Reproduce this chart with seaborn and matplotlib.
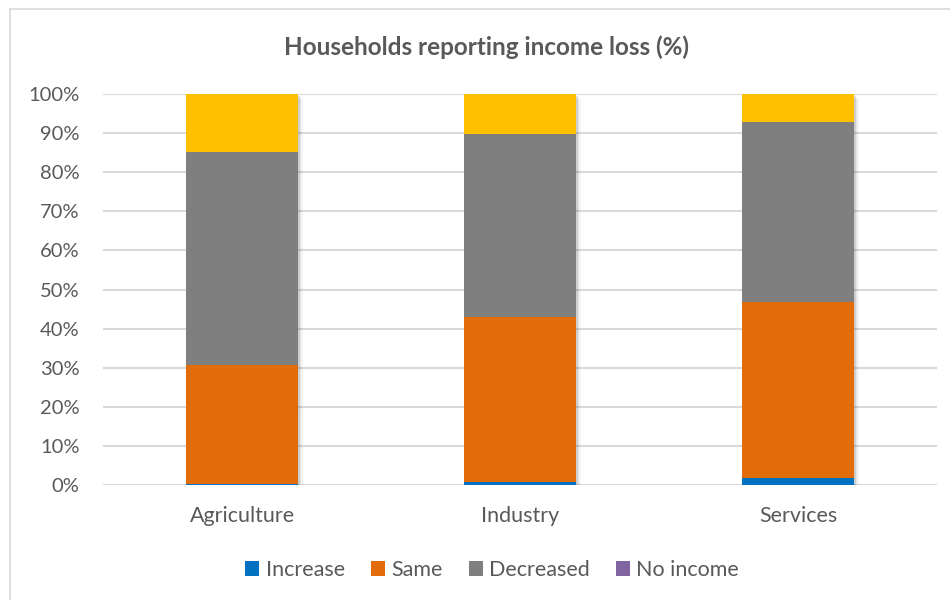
import pandas as pd
import matplotlib
matplotlib.use('Agg')
import matplotlib.pyplot as plt
import matplotlib.patheffects as pe
from matplotlib.patches import Patch, Rectangle
from matplotlib.ticker import PercentFormatter
import seaborn as sns

# data (% of households)
sectors = ['Agriculture', 'Industry', 'Services']
increase = [0.2, 0.8, 1.8]
same = [30.6, 42.2, 45.1]
decreased = [54.3, 46.8, 46.0]
no_income = [0.0, 0.0, 0.0]
other = [14.9, 10.2, 7.1]   # yellow top segment, not listed in the legend

series = ['Increase', 'Same', 'Decreased', 'No income', 'Other']
values = [increase, same, decreased, no_income, other]
colors = ['#0070C0', '#E36C0A', '#7F7F7F', '#8064A2', '#FFC000']

sns.set_style('white')
plt.rcParams['font.family'] = ['Lato', 'DejaVu Sans']
text_color = '#595959'

# long table with cumulative heights for stacking
rows = []
for s, vals in zip(series, values):
    for sec, v in zip(sectors, vals):
        rows.append({'sector': sec, 'series': s, 'value': v})
df = pd.DataFrame(rows)
df['cum'] = df.groupby('sector')['value'].cumsum() / 100

fig = plt.figure(figsize=(9.5, 6), dpi=100)
ax = fig.add_axes([103 / 950, 1 - 485 / 600, (937 - 103) / 950, (485 - 94) / 600])

# soft shadow like the excel bars
shadow = [pe.SimplePatchShadow(offset=(o, -o), alpha=a, shadow_rgbFace='#303030')
          for o, a in [(3.5, 0.05), (2.5, 0.08), (1.5, 0.12)]] + [pe.Normal()]

# draw from the top layer down so each shorter bar covers the taller one
for i, (s, c) in enumerate(reversed(list(zip(series, colors)))):
    part = df[df['series'] == s]
    sns.barplot(data=part, x='sector', y='cum', color=c, order=sectors,
                width=0.403, saturation=1, linewidth=0, ax=ax, zorder=3)
    if i == 0:
        for p in ax.patches:
            p.set_path_effects(shadow)

ax.set_ylim(0, 1)
ax.set_xlim(-0.5, 2.5)
ax.yaxis.set_major_formatter(PercentFormatter(1.0, decimals=0))
ax.set_yticks([i / 10 for i in range(11)])
ax.grid(axis='y', color='#d9d9d9', linewidth=1.5, zorder=0)
ax.set_axisbelow(True)
sns.despine(ax=ax, left=True, bottom=True, top=True, right=True)
ax.set_xlabel('')
ax.set_ylabel('')
ax.tick_params(axis='y', length=0, pad=17, labelsize=14.5, labelcolor=text_color)
ax.tick_params(axis='x', length=0, pad=15, labelsize=15.5, labelcolor=text_color)

fig.text(0.512, 1 - 47 / 600, 'Households reporting income loss (%)', ha='center', va='center',
         fontsize=17.5, fontweight='bold', color=text_color)

handles = [Patch(facecolor=c, edgecolor='none', label=s) for s, c in zip(series[:4], colors[:4])]
fig.legend(handles=handles, loc='center', bbox_to_anchor=(0.518, 1 - 570 / 600), ncol=4,
           frameon=False, fontsize=15.5, labelcolor=text_color, handlelength=0.65,
           handleheight=0.65, handletextpad=0.3, columnspacing=1.2)

# chart area border
fig.patches.append(Rectangle((10 / 950, -0.1), 1.0, 1 - 9 / 600 + 0.1, transform=fig.transFigure,
                             fill=False, edgecolor='#d9d9d9', linewidth=1.2))

fig.savefig('out.png', dpi=100)
